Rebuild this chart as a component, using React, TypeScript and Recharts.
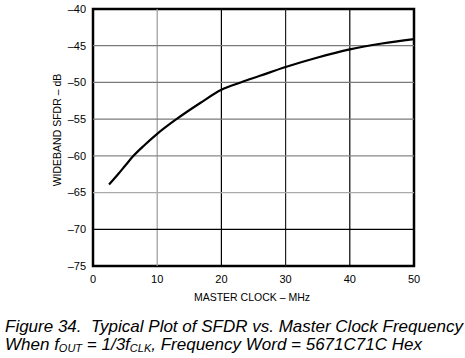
import { LineChart, Line, XAxis, YAxis, ReferenceLine, ReferenceArea } from 'recharts'

// master clock (MHz) vs wideband SFDR (dB)
const clockMHz = [2.5, 4, 5, 6.3, 8, 10, 13, 16.7, 20, 23, 26, 30, 35, 40, 45, 50]
const sfdrDb = [-63.9, -62.4, -61.35, -60, -58.55, -57, -55, -52.8, -51, -50, -49.1, -47.9, -46.6, -45.5, -44.7, -44.1]

const xTicks = [0, 10, 20, 30, 40, 50]
const yTicks = [-75, -70, -65, -60, -55, -50, -45, -40]

// grid colours as in the datasheet scan
const vGrid: [number, string][] = [[10, '#9a9a9a'], [20, '#000'], [30, '#222'], [40, '#000']]
const hGrid: [number, string][] = [[-45, '#7a7a7a'], [-50, '#7a7a7a'], [-55, '#7a7a7a'], [-60, '#888'], [-65, '#aaa'], [-70, '#000']]

const FONT = 'Liberation Sans, Arial, sans-serif'

const data = clockMHz.map((x, i) => ({ x, y: sfdrDb[i] }))
const fmt = (v: number) => (v < 0 ? `–${Math.abs(v)}` : `${v}`)

export default function App() {
  return (
    <div style={{ position: 'absolute', left: 0, top: 0, width: 465, height: 358, background: '#fff', fontFamily: FONT }}>
      <LineChart width={465} height={310} data={data} margin={{ top: 9, right: 51, left: 43, bottom: 14 }}>
        <XAxis
          dataKey="x"
          type="number"
          domain={[0, 50]}
          ticks={xTicks}
          tickLine={false}
          axisLine={false}
          tickSize={0}
          tickMargin={9}
          tick={{ fontSize: 11, fill: '#000', fontFamily: FONT }}
          label={{
            content: () => (
              <text x={252} y={301} textAnchor="middle" fontSize={10.5} fontFamily={FONT} fill="#000">
                MASTER CLOCK – MHz
              </text>
            ),
          }}
        />
        <YAxis
          type="number"
          domain={[-75, -40]}
          ticks={yTicks}
          width={50}
          tickLine={false}
          axisLine={false}
          tickSize={0}
          tickMargin={7}
          tickFormatter={fmt}
          tick={{ fontSize: 11, fill: '#000', fontFamily: FONT }}
          label={{
            content: () => (
              <text x={61} y={130} transform="rotate(-90 61 130)" textAnchor="middle" fontSize={10.5} fontFamily={FONT} fill="#000">
                WIDEBAND SFDR – dB
              </text>
            ),
          }}
        />
        {vGrid.map(([x, c]) => (
          <ReferenceLine key={`v${x}`} x={x} stroke={c} strokeWidth={1.2} />
        ))}
        {hGrid.map(([y, c]) => (
          <ReferenceLine key={`h${y}`} y={y} stroke={c} strokeWidth={1.2} />
        ))}
        <ReferenceArea x1={0} x2={50} y1={-75} y2={-40} fill="none" stroke="#000" strokeWidth={2.5} />
        <Line
          type="monotone"
          dataKey="y"
          stroke="#000"
          strokeWidth={2.2}
          dot={false}
          isAnimationActive={false}
        />
      </LineChart>
      <div style={{ position: 'absolute', left: 5, top: 318, fontStyle: 'italic', fontSize: 17, lineHeight: '18px', color: '#000', whiteSpace: 'nowrap' }}>
        <div>Figure 34.&nbsp; Typical Plot of SFDR vs. Master Clock Frequency</div>
        <div>
          When f<sub style={{ fontSize: 11, verticalAlign: '-2px' }}>OUT</sub> = 1/3f<sub style={{ fontSize: 11, verticalAlign: '-2px' }}>CLK</sub>, Frequency Word = 5671C71C Hex
        </div>
      </div>
    </div>
  )
}
